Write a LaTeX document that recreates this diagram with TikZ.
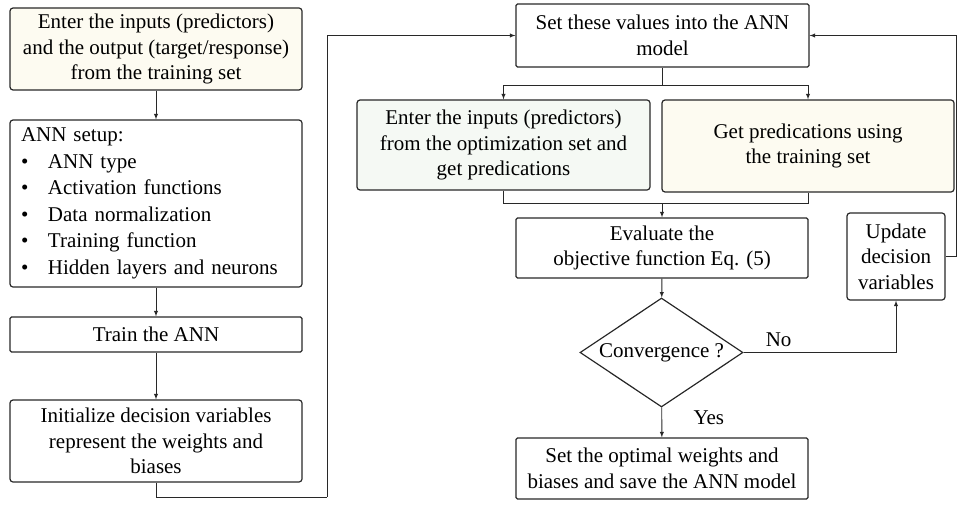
\documentclass[tikz,border=0pt]{standalone}
\usepackage{fontspec}
\setmainfont{Liberation Serif}
\usetikzlibrary{arrows}
\usetikzlibrary{shapes.geometric}
\definecolor{creamfill}{RGB}{253,251,241}
\definecolor{mintfill}{RGB}{245,249,244}
\definecolor{edgegray}{RGB}{40,40,40}

\begin{document}
\begin{tikzpicture}[x=1pt,y=-1pt,>=latex,
    every node/.style={font=\fontsize{21}{25.5}\selectfont},
    blockbox/.style={draw=edgegray,line width=1.2pt,rounded corners=3pt,align=center,inner sep=0pt,minimum width=292},
    plainbox/.style={blockbox,rounded corners=1.5pt},
    decision/.style={draw=edgegray,line width=1.2pt,diamond,aspect=1.5,inner sep=0pt,minimum width=163,minimum height=109},
    link/.style={draw=edgegray,line width=0.9pt}]
    \useasboundingbox (0,0) rectangle (957,508);
    % left column
    \node[blockbox,fill=creamfill,minimum height=82] (inputs) at (156,49) {Enter the inputs (predictors)\\and the output (target/response)\\from the training set};
    \node[blockbox,minimum height=167,align=left,text width=270,inner xsep=11pt,font=\fontsize{21}{26.5}\selectfont] (setup) at (156,203.5) {ANN setup:\\
      \makebox[27pt][l]{\textbullet}ANN type\\
      \makebox[27pt][l]{\textbullet}Activation functions\\
      \makebox[27pt][l]{\textbullet}Data normalization\\
      \makebox[27pt][l]{\textbullet}Training function\\
      \makebox[27pt][l]{\textbullet}Hidden layers and neurons};
    \node[plainbox,minimum height=35] (train) at (156,334.5) {Train the ANN};
    \node[blockbox,minimum height=82] (init) at (156,441) {Initialize decision variables\\represent the weights and\\biases};
    % right column
    \node[plainbox,minimum width=293,minimum height=63] (setvals) at (662.5,35.5) {Set these values into the ANN\\model};
    \node[blockbox,fill=mintfill,minimum width=293,minimum height=90] (optset) at (503.5,145) {Enter the inputs (predictors)\\from the optimization set and\\get predications};
    \node[blockbox,fill=creamfill,minimum height=92] (trainset) at (808,146) {Get predications using\\the training set};
    \node[plainbox,minimum height=60] (objfun) at (662,248) {Evaluate the\\objective function Eq. (5)};
    \node[decision] (conv) at (661.5,352.5) {Convergence ?};
    \node[blockbox,minimum width=98,minimum height=87] (update) at (896,256.5) {Update\\decision\\variables};
    \node[plainbox,minimum height=61] (save) at (662,468.5) {Set the optimal weights and\\biases and save the ANN model};
    % helper points
    \coordinate (loopin) at (327,497);
    \coordinate (split) at (662.5,85);
    \coordinate (merge) at (662,203);
    % connectors
    \draw[link,->] (inputs) -- (setup);
    \draw[link,->] (setup) -- (train);
    \draw[link,->] (train) -- (init);
    \draw[link] (init.south) |- (loopin);
    \draw[link,->] (loopin) |- (setvals.west);
    \draw[link] (setvals.south) -- (split);
    \draw[link,->] (split) -| (optset.north);
    \draw[link,->] (split) -| (trainset.north);
    \draw[link] (optset.south) |- (merge);
    \draw[link] (trainset.south) |- (merge);
    \draw[link,->] (merge) -- (objfun.north);
    \draw[link,->] (objfun) -- (conv);
    \draw[link,->] (conv) -- node[pos=0.35,right=28pt] {Yes} (save);
    \draw[link,->] (conv.east) -| node[pos=0.115,above=2pt] {No} (update.south);
    \draw[link,->] (update.east) -- ++(11,0) |- (setvals.east);
\end{tikzpicture}
\end{document}
